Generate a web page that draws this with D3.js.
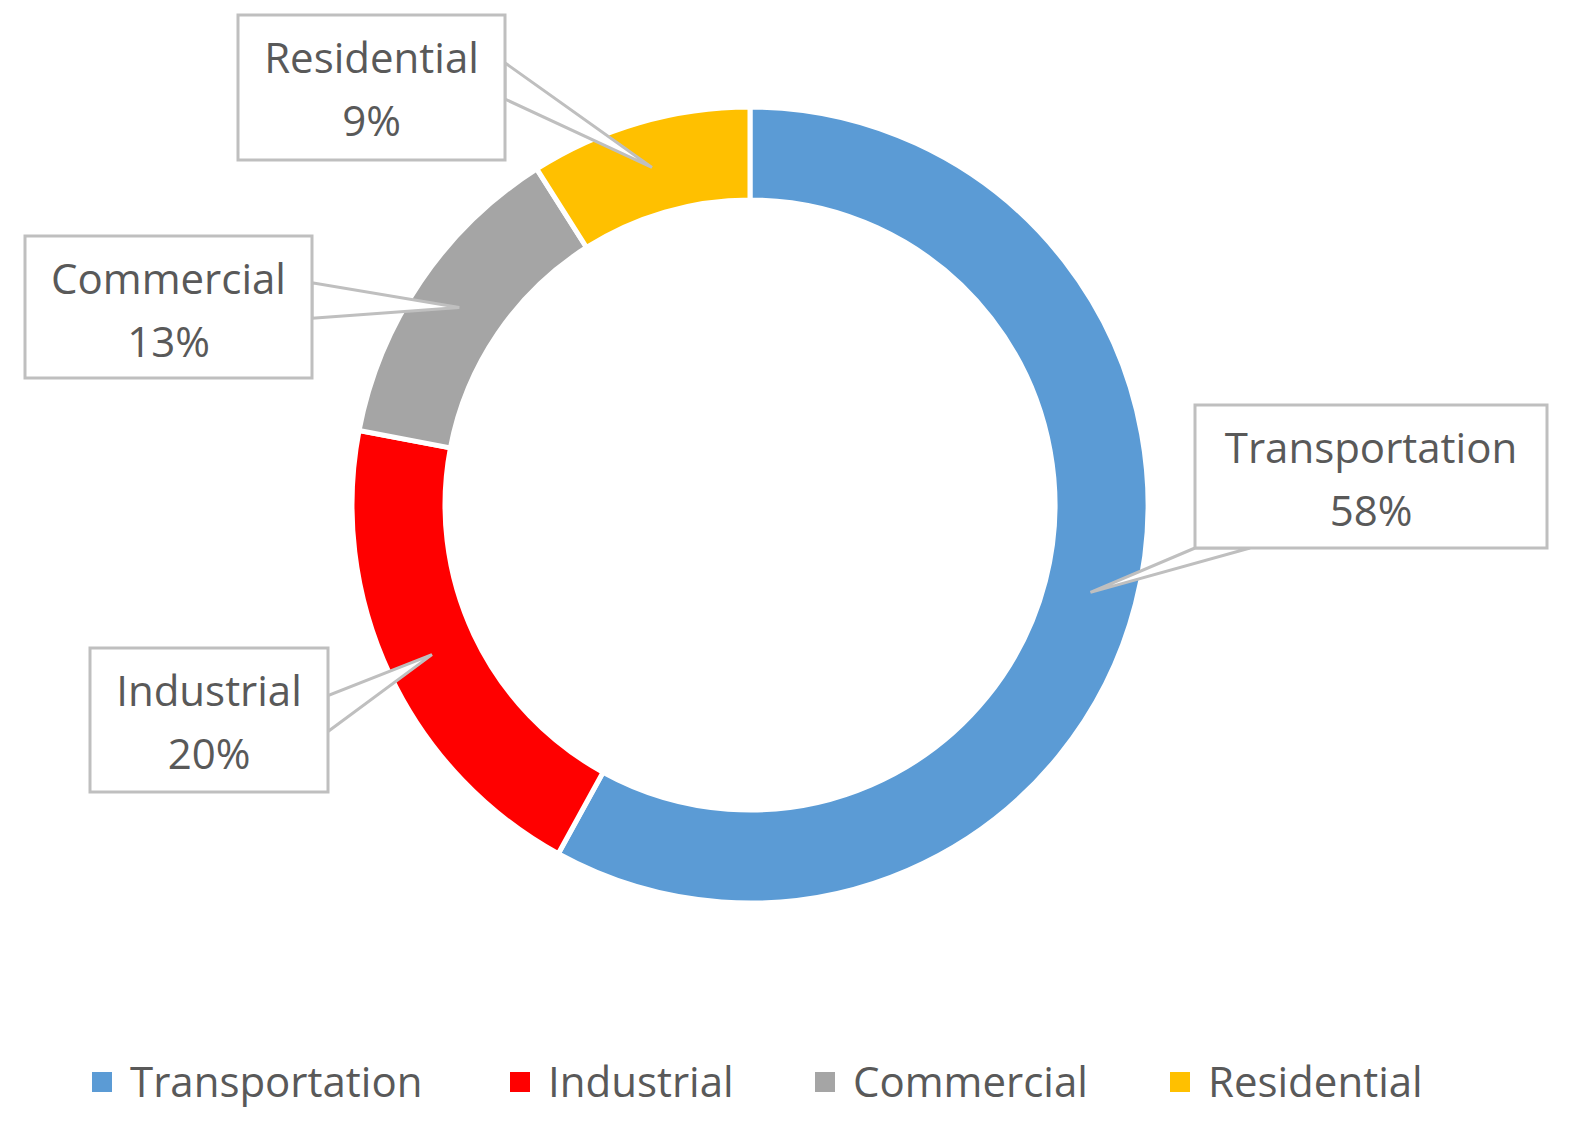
<!DOCTYPE html>
<html><head><meta charset="utf-8">
<script src="https://cdn.jsdelivr.net/npm/d3@7"></script>
<style>body{margin:0;background:#fff}text{font-family:"Open Sans",sans-serif;fill:#595959}</style>
</head><body><div id="chart"></div>
<script>
var categories = ["Transportation", "Industrial", "Commercial", "Residential"];
var values = [58, 20, 13, 9];
var colors = ["#5B9BD5", "#FF0000", "#A5A5A5", "#FFC000"];
// callout boxes: x, y, w, h, side the leader attaches to
var boxes = [
	{x: 1195, y: 405, w: 352, h: 143, side: "bottom"},
	{x: 90, y: 648, w: 238, h: 144, side: "right"},
	{x: 25, y: 236, w: 287, h: 142, side: "right"},
	{x: 238, y: 15, w: 267, h: 145, side: "right"}
];

var width = 1595, height = 1141, cx = 750, cy = 505, rOuter = 398, rInner = 305;
var svg = d3.select("#chart").append("svg").attr("width", width).attr("height", height);
var g = svg.append("g").attr("transform", "translate(" + cx + "," + cy + ")");

var pie = d3.pie().sort(null).value(function(d) { return d; });
var arc = d3.arc().innerRadius(rInner).outerRadius(rOuter);
var mid = d3.arc().innerRadius((rInner + rOuter) / 2 - 45).outerRadius((rInner + rOuter) / 2 + 45);
var arcs = pie(values);

g.selectAll("path.slice").data(arcs).enter().append("path")
	.attr("class", "slice")
	.attr("d", arc)
	.attr("fill", function(d, i) { return colors[i]; })
	.attr("stroke", "#fff").attr("stroke-width", 5);

// leader callouts
arcs.forEach(function(d, i) {
	var b = boxes[i], c = mid.centroid(d);
	var tip = [cx + c[0], cy + c[1]], p1, p2;
	if (b.side == "bottom") { p1 = [b.x, b.y + b.h]; p2 = [b.x + 55, b.y + b.h]; }
	else { p1 = [b.x + b.w, b.y + b.h * 0.58]; p2 = [b.x + b.w, b.y + b.h * 0.33]; }
	svg.append("polygon")
		.attr("points", [p1, tip, p2].map(function(p) { return p.join(","); }).join(" "))
		.attr("fill", "#fff").attr("stroke", "#BFBFBF").attr("stroke-width", 3);
	svg.append("rect").attr("x", b.x).attr("y", b.y).attr("width", b.w).attr("height", b.h)
		.attr("fill", "#fff").attr("stroke", "#BFBFBF").attr("stroke-width", 3);
	// hide the polygon base inside the box edge
	var t = svg.append("text").attr("text-anchor", "middle").attr("font-size", 42);
	t.append("tspan").attr("x", b.x + b.w / 2).attr("y", b.y + 58).text(categories[i]);
	t.append("tspan").attr("x", b.x + b.w / 2).attr("y", b.y + 121).text(values[i] + "%");
});

// legend
var legX = [92, 510, 815, 1170];
var leg = svg.selectAll("g.leg").data(categories).enter().append("g").attr("class", "leg")
	.attr("transform", function(d, i) { return "translate(" + legX[i] + ",1082)"; });
leg.append("rect").attr("x", 0).attr("y", -10).attr("width", 20).attr("height", 20)
	.attr("fill", function(d, i) { return colors[i]; });
leg.append("text").attr("x", 38).attr("y", 15).attr("font-size", 42).text(function(d) { return d; });
</script></body></html>
